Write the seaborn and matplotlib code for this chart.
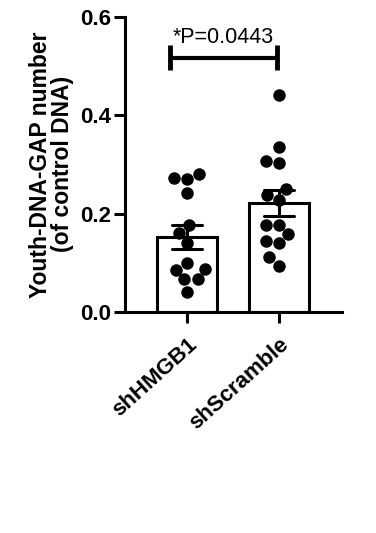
import matplotlib
matplotlib.use("Agg")
import matplotlib.pyplot as plt
import seaborn as sns
import pandas as pd

# values
groups = ["shHMGB1", "shScramble"]
sh_hmgb1 = [0.280, 0.270, 0.272, 0.241, 0.177, 0.161, 0.141,
            0.085, 0.066, 0.100, 0.066, 0.087, 0.041]
sh_scramble = [0.441, 0.336, 0.307, 0.302, 0.249, 0.237, 0.228,
               0.176, 0.176, 0.158, 0.144, 0.140, 0.111, 0.094]
y_ticks = [0.0, 0.2, 0.4, 0.6]
p_text = "*P=0.0443"

df = pd.DataFrame({
    "group": [groups[0]] * len(sh_hmgb1) + [groups[1]] * len(sh_scramble),
    "value": sh_hmgb1 + sh_scramble,
})

sns.set_style("ticks")
plt.rcParams["font.family"] = ["Liberation Sans", "DejaVu Sans"]
for k in ("text.color", "axes.labelcolor", "xtick.color", "ytick.color", "axes.edgecolor"):
    plt.rcParams[k] = "black"

fig = plt.figure(figsize=(3.76, 5.33), dpi=100)
ax = fig.add_axes([0.332, 0.415, 0.578, 0.553])

sns.barplot(data=df, x="group", y="value", order=groups, errorbar="se",
            width=0.65, color="white", edgecolor="black", linewidth=2.2,
            capsize=0.33, err_kws={"color": "black", "linewidth": 2.2}, ax=ax)
sns.swarmplot(data=df, x="group", y="value", order=groups, color="black",
              size=9, ax=ax, zorder=3)

# significance bracket
yb = 0.517
ax.plot([-0.185, 0.978], [yb, yb], color="black", lw=3, solid_capstyle="butt")
for xb in (-0.185, 0.978):
    ax.plot([xb, xb], [0.492, 0.543], color="black", lw=3.5, solid_capstyle="butt")
ax.text(0.40, 0.548, p_text, ha="center", va="baseline", fontsize=15.5)

ax.set_ylim(0, 0.6)
ax.set_xlim(-0.674, 1.685)
ax.set_yticks(y_ticks)
ax.set_yticklabels([f"{t:.1f}" for t in y_ticks], fontsize=16, fontweight="bold")
ax.set_xticks(range(len(groups)))
ax.set_xticklabels(groups, rotation=42, ha="right", rotation_mode="anchor",
                   fontsize=16, fontweight="bold")
ax.set_xlabel("")
ax.set_ylabel("Youth-DNA-GAP number\n(of control DNA)", fontsize=16.5,
              fontweight="bold", labelpad=4, linespacing=0.95)

sns.despine(ax=ax)
for s in ("left", "bottom"):
    ax.spines[s].set_linewidth(2.2)
ax.tick_params(axis="y", width=2.2, length=8, pad=2)
ax.tick_params(axis="x", width=2.2, length=8, pad=8)

fig.savefig("out.png", dpi=100)
